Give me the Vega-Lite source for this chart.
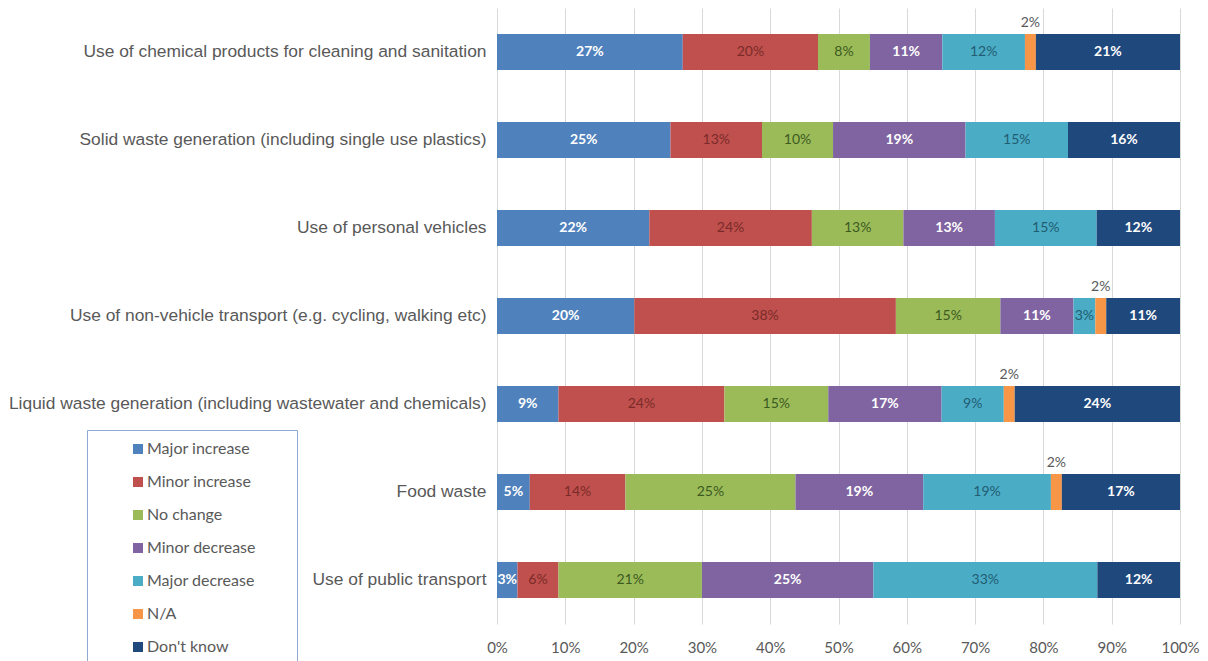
{
  "$schema": "https://vega.github.io/schema/vega-lite/v6.json",
  "width": 683,
  "height": 616,
  "autosize": {"type": "none"},
  "padding": {"left": 497, "top": 8, "right": 28, "bottom": 37},
  "background": "white",
  "config": {"view": {"stroke": null}, "font": "Lato"},
  "data": {
    "values": [
      {"item": "Use of chemical products for cleaning and sanitation", "category": "Major increase", "value": 27.2},
      {"item": "Use of chemical products for cleaning and sanitation", "category": "Minor increase", "value": 19.8},
      {"item": "Use of chemical products for cleaning and sanitation", "category": "No change", "value": 7.6},
      {"item": "Use of chemical products for cleaning and sanitation", "category": "Minor decrease", "value": 10.6},
      {"item": "Use of chemical products for cleaning and sanitation", "category": "Major decrease", "value": 12.1},
      {"item": "Use of chemical products for cleaning and sanitation", "category": "N/A", "value": 1.6},
      {"item": "Use of chemical products for cleaning and sanitation", "category": "Don't know", "value": 21.1},
      {"item": "Solid waste generation (including single use plastics)", "category": "Major increase", "value": 25.4},
      {"item": "Solid waste generation (including single use plastics)", "category": "Minor increase", "value": 13.4},
      {"item": "Solid waste generation (including single use plastics)", "category": "No change", "value": 10.4},
      {"item": "Solid waste generation (including single use plastics)", "category": "Minor decrease", "value": 19.4},
      {"item": "Solid waste generation (including single use plastics)", "category": "Major decrease", "value": 15.0},
      {"item": "Solid waste generation (including single use plastics)", "category": "Don't know", "value": 16.4},
      {"item": "Use of personal vehicles", "category": "Major increase", "value": 22.3},
      {"item": "Use of personal vehicles", "category": "Minor increase", "value": 23.8},
      {"item": "Use of personal vehicles", "category": "No change", "value": 13.4},
      {"item": "Use of personal vehicles", "category": "Minor decrease", "value": 13.4},
      {"item": "Use of personal vehicles", "category": "Major decrease", "value": 14.9},
      {"item": "Use of personal vehicles", "category": "Don't know", "value": 12.2},
      {"item": "Use of non-vehicle transport (e.g. cycling, walking etc)", "category": "Major increase", "value": 20.1},
      {"item": "Use of non-vehicle transport (e.g. cycling, walking etc)", "category": "Minor increase", "value": 38.3},
      {"item": "Use of non-vehicle transport (e.g. cycling, walking etc)", "category": "No change", "value": 15.3},
      {"item": "Use of non-vehicle transport (e.g. cycling, walking etc)", "category": "Minor decrease", "value": 10.7},
      {"item": "Use of non-vehicle transport (e.g. cycling, walking etc)", "category": "Major decrease", "value": 3.2},
      {"item": "Use of non-vehicle transport (e.g. cycling, walking etc)", "category": "N/A", "value": 1.6},
      {"item": "Use of non-vehicle transport (e.g. cycling, walking etc)", "category": "Don't know", "value": 10.8},
      {"item": "Liquid waste generation (including wastewater and chemicals)", "category": "Major increase", "value": 9.0},
      {"item": "Liquid waste generation (including wastewater and chemicals)", "category": "Minor increase", "value": 24.3},
      {"item": "Liquid waste generation (including wastewater and chemicals)", "category": "No change", "value": 15.2},
      {"item": "Liquid waste generation (including wastewater and chemicals)", "category": "Minor decrease", "value": 16.6},
      {"item": "Liquid waste generation (including wastewater and chemicals)", "category": "Major decrease", "value": 9.1},
      {"item": "Liquid waste generation (including wastewater and chemicals)", "category": "N/A", "value": 1.6},
      {"item": "Liquid waste generation (including wastewater and chemicals)", "category": "Don't know", "value": 24.2},
      {"item": "Food waste", "category": "Major increase", "value": 4.8},
      {"item": "Food waste", "category": "Minor increase", "value": 14.0},
      {"item": "Food waste", "category": "No change", "value": 24.9},
      {"item": "Food waste", "category": "Minor decrease", "value": 18.7},
      {"item": "Food waste", "category": "Major decrease", "value": 18.7},
      {"item": "Food waste", "category": "N/A", "value": 1.6},
      {"item": "Food waste", "category": "Don't know", "value": 17.3},
      {"item": "Use of public transport", "category": "Major increase", "value": 3.0},
      {"item": "Use of public transport", "category": "Minor increase", "value": 6.0},
      {"item": "Use of public transport", "category": "No change", "value": 21.0},
      {"item": "Use of public transport", "category": "Minor decrease", "value": 25.1},
      {"item": "Use of public transport", "category": "Major decrease", "value": 32.8},
      {"item": "Use of public transport", "category": "Don't know", "value": 12.1}
    ]
  },
  "transform": [
    {"calculate": "indexof(['Major increase','Minor increase','No change','Minor decrease','Major decrease','N/A',\"Don't know\"], datum.category)", "as": "ord"},
    {"stack": "value", "groupby": ["item"], "sort": [{"field": "ord", "order": "ascending"}], "offset": "normalize", "as": ["x0", "x1"]},
    {"calculate": "(datum.x0 + datum.x1) / 2", "as": "xm"},
    {"calculate": "format(datum.value, '.0f') + '%'", "as": "label"}
  ],
  "encoding": {
    "y": {
      "field": "item",
      "type": "nominal",
      "sort": [
        "Use of chemical products for cleaning and sanitation",
        "Solid waste generation (including single use plastics)",
        "Use of personal vehicles",
        "Use of non-vehicle transport (e.g. cycling, walking etc)",
        "Liquid waste generation (including wastewater and chemicals)",
        "Food waste",
        "Use of public transport"
      ],
      "scale": {"paddingInner": 0.59, "paddingOuter": 0.295},
      "axis": {
        "title": null,
        "domain": false,
        "ticks": false,
        "labelFont": "Liberation Sans",
        "labelFontSize": 17.4,
        "labelColor": "#595959",
        "labelPadding": 11,
        "labelLimit": 600
      }
    }
  },
  "layer": [
    {
      "mark": {"type": "bar"},
      "encoding": {
        "x": {
          "field": "x0",
          "type": "quantitative",
          "scale": {"domain": [0, 1]},
          "axis": {
            "title": null,
            "values": [0, 0.1, 0.2, 0.3, 0.4, 0.5, 0.6, 0.7, 0.8, 0.9, 1],
            "format": "%",
            "grid": true,
            "gridColor": "#d9d9d9",
            "gridWidth": 1,
            "domain": false,
            "ticks": false,
            "labelFlush": false,
            "labelPadding": 16,
            "labelFont": "Lato",
            "labelFontSize": 15,
            "labelColor": "#595959"
          }
        },
        "x2": {"field": "x1"},
        "color": {
          "field": "category",
          "type": "nominal",
          "scale": {
            "domain": ["Major increase", "Minor increase", "No change", "Minor decrease", "Major decrease", "N/A", "Don't know"],
            "range": ["#4f81bd", "#c0504d", "#9bbb59", "#8064a2", "#4bacc6", "#f79646", "#1f497d"]
          },
          "legend": {
            "title": "\u00a0",
            "titleOrient": "right",
            "titlePadding": 30,
            "orient": "none",
            "legendX": -410,
            "legendY": 422,
            "symbolType": "square",
            "symbolSize": 100,
            "symbolStrokeWidth": 0,
            "symbolOffset": 32,
            "labelFont": "Lato",
            "labelFontSize": 16,
            "labelColor": "#595959",
            "labelOffset": 1,
            "rowPadding": 17,
            "padding": 11,
            "strokeColor": "#8eaad0",
            "fillColor": "white"
          }
        }
      }
    },
    {
      "transform": [{"filter": "datum.category === 'Major increase' || datum.category === 'Minor decrease' || datum.category === \"Don't know\""}],
      "mark": {"type": "text", "fontWeight": "bold", "fontSize": 14, "font": "Lato", "color": "white"},
      "encoding": {
        "x": {"field": "xm", "type": "quantitative", "scale": {"domain": [0, 1]}},
        "text": {"field": "label"}
      }
    },
    {
      "transform": [{"filter": "datum.category === 'Minor increase' || datum.category === 'No change' || datum.category === 'Major decrease'"}],
      "mark": {"type": "text", "fontSize": 14, "font": "Lato"},
      "encoding": {
        "x": {"field": "xm", "type": "quantitative", "scale": {"domain": [0, 1]}},
        "text": {"field": "label"},
        "color": {
          "field": "category",
          "type": "nominal",
          "scale": {"domain": ["Minor increase", "No change", "Major decrease"], "range": ["#7a2b29", "#3b5a1f", "#215d72"]},
          "legend": null
        }
      }
    },
    {
      "transform": [{"filter": "datum.category === 'N/A'"}],
      "mark": {"type": "text", "fontSize": 14, "font": "Lato", "color": "#595959", "dy": -29},
      "encoding": {
        "x": {"field": "xm", "type": "quantitative", "scale": {"domain": [0, 1]}},
        "text": {"field": "label"}
      }
    }
  ],
  "resolve": {"scale": {"color": "independent"}}
}
